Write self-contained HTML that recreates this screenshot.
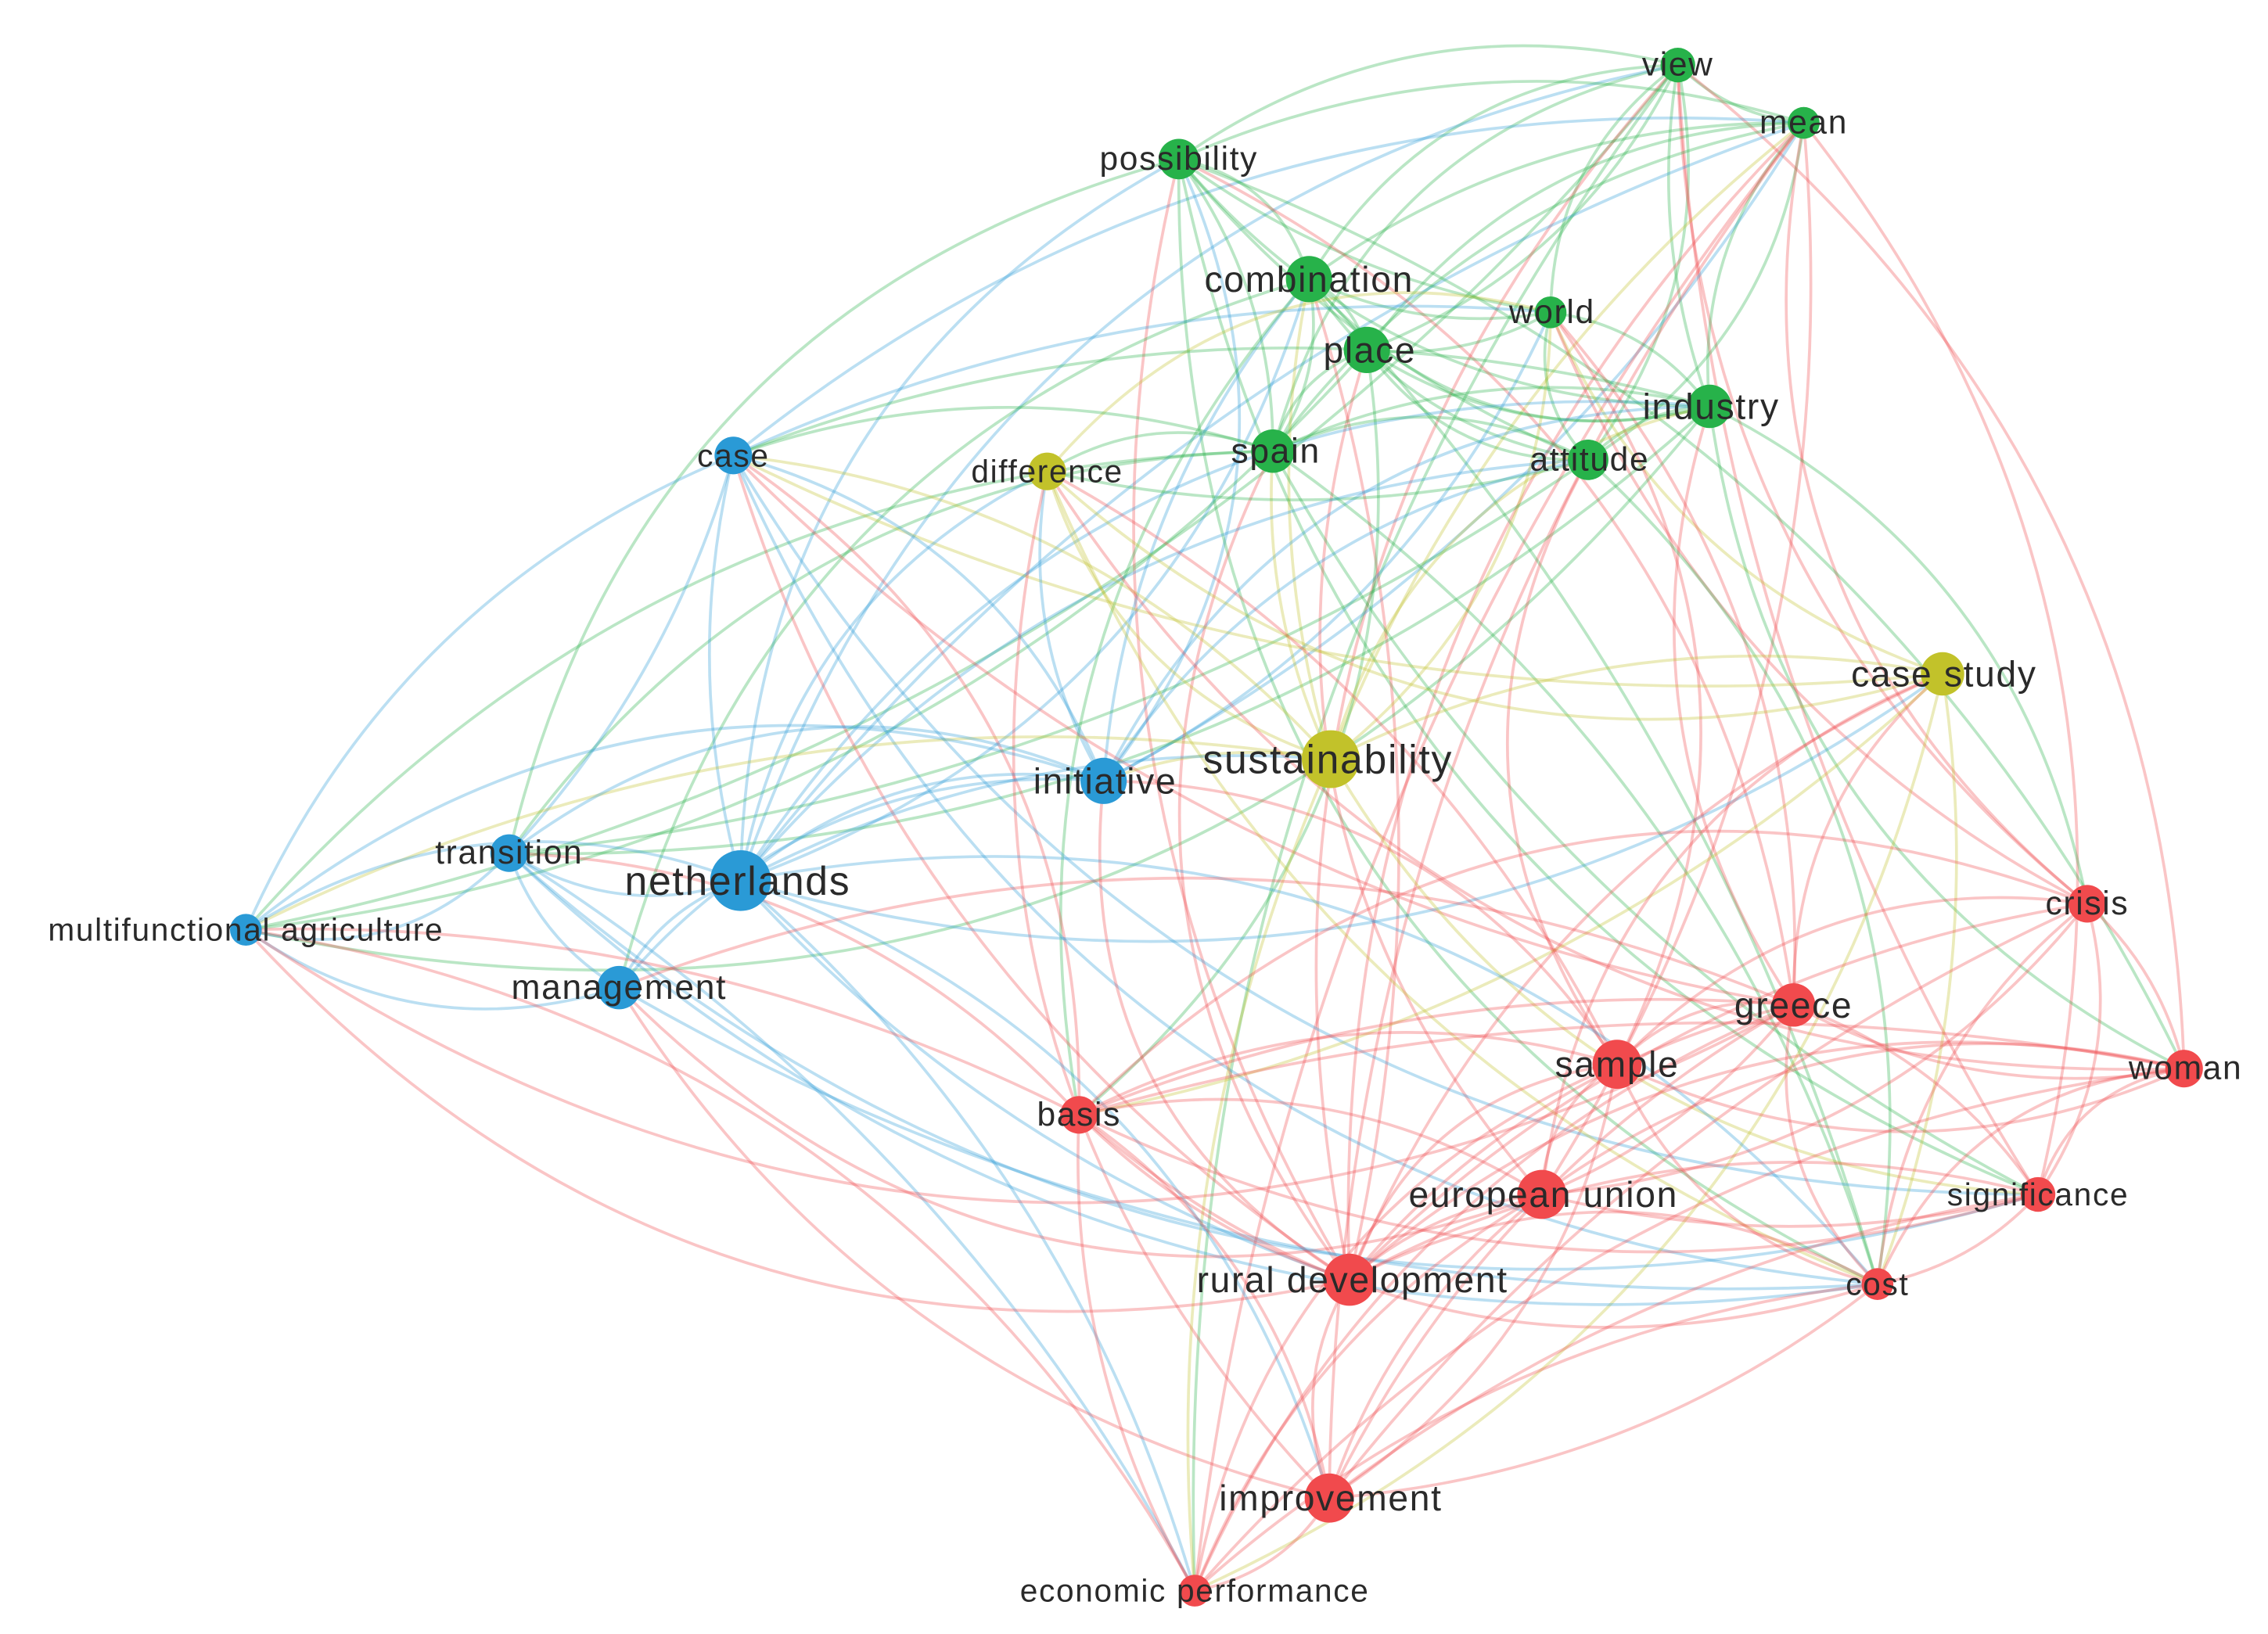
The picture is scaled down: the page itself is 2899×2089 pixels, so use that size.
<!DOCTYPE html>
<html><head><meta charset="utf-8">
<style>
html,body{margin:0;padding:0;background:#fff;}
svg{display:block;}
text{font-family:"Liberation Sans","DejaVu Sans",sans-serif;fill:#2a2a2a;text-anchor:middle;dominant-baseline:central;letter-spacing:0.9px;}
</style></head>
<body>
<svg id="s" width="2899" height="2089" viewBox="0 0 1568 1130" preserveAspectRatio="none" xmlns="http://www.w3.org/2000/svg">
<g id="edges" fill="none" stroke-width="2"></g>
<g id="nodes"></g>
<g id="labels">
<text x="1160" y="45" font-size="23">view</text>
<text x="1247" y="85" font-size="23">mean</text>
<text x="815" y="110" font-size="23">possibility</text>
<text x="905" y="193" font-size="25">combination</text>
<text x="1073" y="216" font-size="23">world</text>
<text x="947" y="242" font-size="25">place</text>
<text x="1183" y="281" font-size="25">industry</text>
<text x="882" y="312" font-size="24">spain</text>
<text x="1099" y="318" font-size="23">attitude</text>
<text x="507" y="315" font-size="22">case</text>
<text x="724" y="326" font-size="22">difference</text>
<text x="1344" y="466" font-size="25">case study</text>
<text x="918" y="525" font-size="28">sustainability</text>
<text x="764" y="540" font-size="25">initiative</text>
<text x="352" y="590" font-size="23">transition</text>
<text x="510" y="609" font-size="28">netherlands</text>
<text x="170" y="643" font-size="22">multifunctional agriculture</text>
<text x="428" y="683" font-size="24">management</text>
<text x="1443" y="625" font-size="23">crisis</text>
<text x="1240" y="695" font-size="25">greece</text>
<text x="1118" y="736" font-size="25">sample</text>
<text x="1511" y="739" font-size="23">woman</text>
<text x="746" y="771" font-size="23">basis</text>
<text x="1067" y="826" font-size="25">european union</text>
<text x="1409" y="826" font-size="22">significance</text>
<text x="935" y="885" font-size="25">rural development</text>
<text x="1298" y="888" font-size="22">cost</text>
<text x="920" y="1036" font-size="25">improvement</text>
<text x="826" y="1100" font-size="22">economic performance</text>
</g>
</svg>
<script>
var G="#27b24a",B="#2a9ad6",R="#f14a4d",Y="#c2c22a";
var N=[
["view",1160,45,12,G],["mean",1247,85,11,G],["possibility",815,110,14,G],["combination",905,193,16,G],
["world",1072,216,11,G],["place",945,242,16,G],["industry",1182,281,15,G],["spain",880,312,15,G],
["attitude",1098,318,14,G],["case",507,315,13,B],["difference",724,326,13,Y],["case study",1343,466,15,Y],
["sustainability",920,525,20,Y],["initiative",763,540,16,B],["transition",352,590,13,B],["netherlands",512,609,21,B],
["multi",170,643,11,B],["management",428,683,15,B],["crisis",1443,625,13,R],["greece",1240,695,15,R],
["sample",1118,736,17,R],["woman",1510,739,13,R],["basis",746,771,13,R],["eu",1066,826,17,R],
["significance",1409,826,12,R],["rural",933,885,18,R],["cost",1298,888,11,R],["improvement",919,1036,17,R],
["econ",826,1100,11,R]];
var e=document.getElementById("edges"),h="";
var seed=7;function rnd(){seed=(seed*16807)%2147483647;return seed/2147483647;}
for(var i=0;i<N.length;i++)for(var j=i+1;j<N.length;j++){
 var a=N[i],b=N[j],same=a[4]==b[4];
 var p=same?0.9:0.42;
 if(rnd()>p)continue;
 var dx=b[1]-a[1],dy=b[2]-a[2];
 var sg=rnd()<0.3?-1:1,k=0.12+rnd()*0.2;
 var cx=(a[1]+b[1])/2-dy*k*sg,cy=(a[2]+b[2])/2+dx*k*sg;
 var c=(a[3]>b[3])?a[4]:b[4];
 h+='<path d="M'+a[1]+' '+a[2]+' Q'+cx.toFixed(1)+' '+cy.toFixed(1)+' '+b[1]+' '+b[2]+'" stroke="'+c+'" stroke-opacity="0.32"/>';
}
e.innerHTML=h;
var n="";
N.forEach(function(a){n+='<circle cx="'+a[1]+'" cy="'+a[2]+'" r="'+a[3]+'" fill="'+a[4]+'"/>';});
document.getElementById("nodes").innerHTML=n;
</script>
</body></html>
